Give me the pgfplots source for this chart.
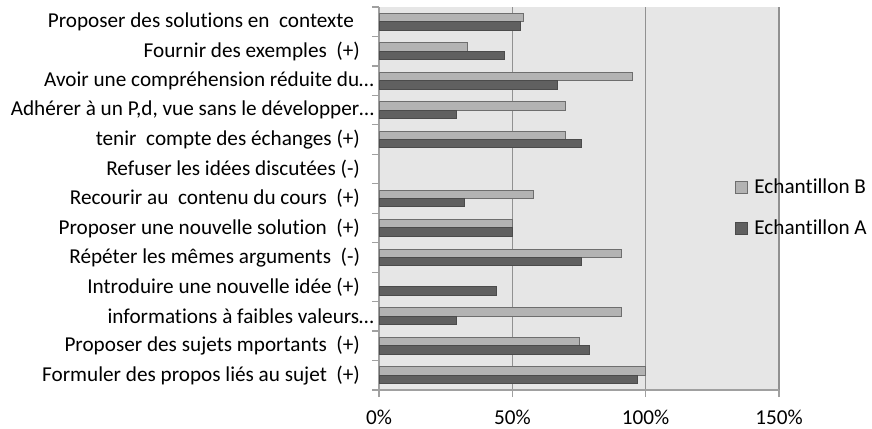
\documentclass[border=0pt]{standalone}
\usepackage{pgfplots}
\pgfplotsset{compat=1.18}
\usepackage{fontspec}
\setmainfont{Carlito}[Ligatures=NoCommon]
\definecolor{bgA}{RGB}{96,96,96}
\definecolor{bdA}{RGB}{75,75,75}
\definecolor{bgB}{RGB}{179,179,179}
\definecolor{bdB}{RGB}{110,110,110}
\definecolor{plotbg}{RGB}{230,230,230}
\definecolor{gridc}{RGB}{145,145,145}
\definecolor{axc}{RGB}{160,160,160}
\newcommand{\trunc}{\hspace*{-7pt}}
\begin{document}
\begin{tikzpicture}
\useasboundingbox (0,0) rectangle (436pt,214pt);
\begin{axis}[
  at={(189.5pt,19pt)}, anchor=south west,
  scale only axis, width=200pt, height=191.5pt,
  xbar,
  xmin=0, xmax=150, ymin=-0.5, ymax=12.5,
  axis lines*=left,
  axis line style={draw=axc, line width=0.6pt, -},
  axis background/.style={fill=plotbg},
  xmajorgrids, grid style={draw=gridc, line width=0.6pt},
  tick align=outside,
  major tick length=0pt,
  minor tick length=3.5pt,
  tick style={draw=axc, line width=0.6pt},
  xtick={0,50,100,150},
  xticklabels={0\%,50\%,100\%,150\%},
  minor xtick={0,50,100,150},
  ytick={0,...,12},
  minor ytick={-0.5,0.5,...,12.5},
  yticklabels={
    Formuler des propos liés au sujet~ (+),
    Proposer des sujets mportants~ (+),
    informations à faibles valeurs…\trunc,
    Introduire une nouvelle idée (+),
    Répéter les mêmes arguments~ (-),
    Proposer une nouvelle solution~ (+),
    Recourir au~ contenu du cours~ (+),
    Refuser les idées discutées (-),
    tenir~ compte des échanges (+),
    {Adhérer à un P,d, vue sans le développer…\trunc},
    Avoir une compréhension réduite du…\trunc,
    Fournir des exemples~ (+),
    Proposer des solutions en~ contexte\hspace*{3pt}},
  tick label style={font=\fontsize{10.6}{12.8}\selectfont, text=black},
  yticklabel style={xshift=-6pt},
  xticklabel style={yshift=-6.5pt},
  legend style={at={(0.89,0.475)}, anchor=west, draw=none, fill=none,
    font=\fontsize{10.6}{12.7}\selectfont, row sep=7.3pt, inner sep=0pt,
    nodes={inner xsep=3pt}},
  legend cell align=left,
  legend image code/.code={\draw[#1] (0pt,-3pt) rectangle (6pt,3pt);},
]
\addplot[xbar, bar width=4.2pt, bar shift=2.1pt, fill=bgB, draw=bdB, line width=0.5pt]
  coordinates {(100,0) (75,1) (91,2) (91,4) (50,5) (58,6) (70,8) (70,9) (95,10) (33,11) (54,12)};
\addplot[xbar, bar width=4.2pt, bar shift=-2.1pt, fill=bgA, draw=bdA, line width=0.5pt]
  coordinates {(97,0) (79,1) (29,2) (44,3) (76,4) (50,5) (32,6) (76,8) (29,9) (67,10) (47,11) (53,12)};
\legend{Echantillon B, Echantillon A}
\end{axis}
\end{tikzpicture}
\end{document}
